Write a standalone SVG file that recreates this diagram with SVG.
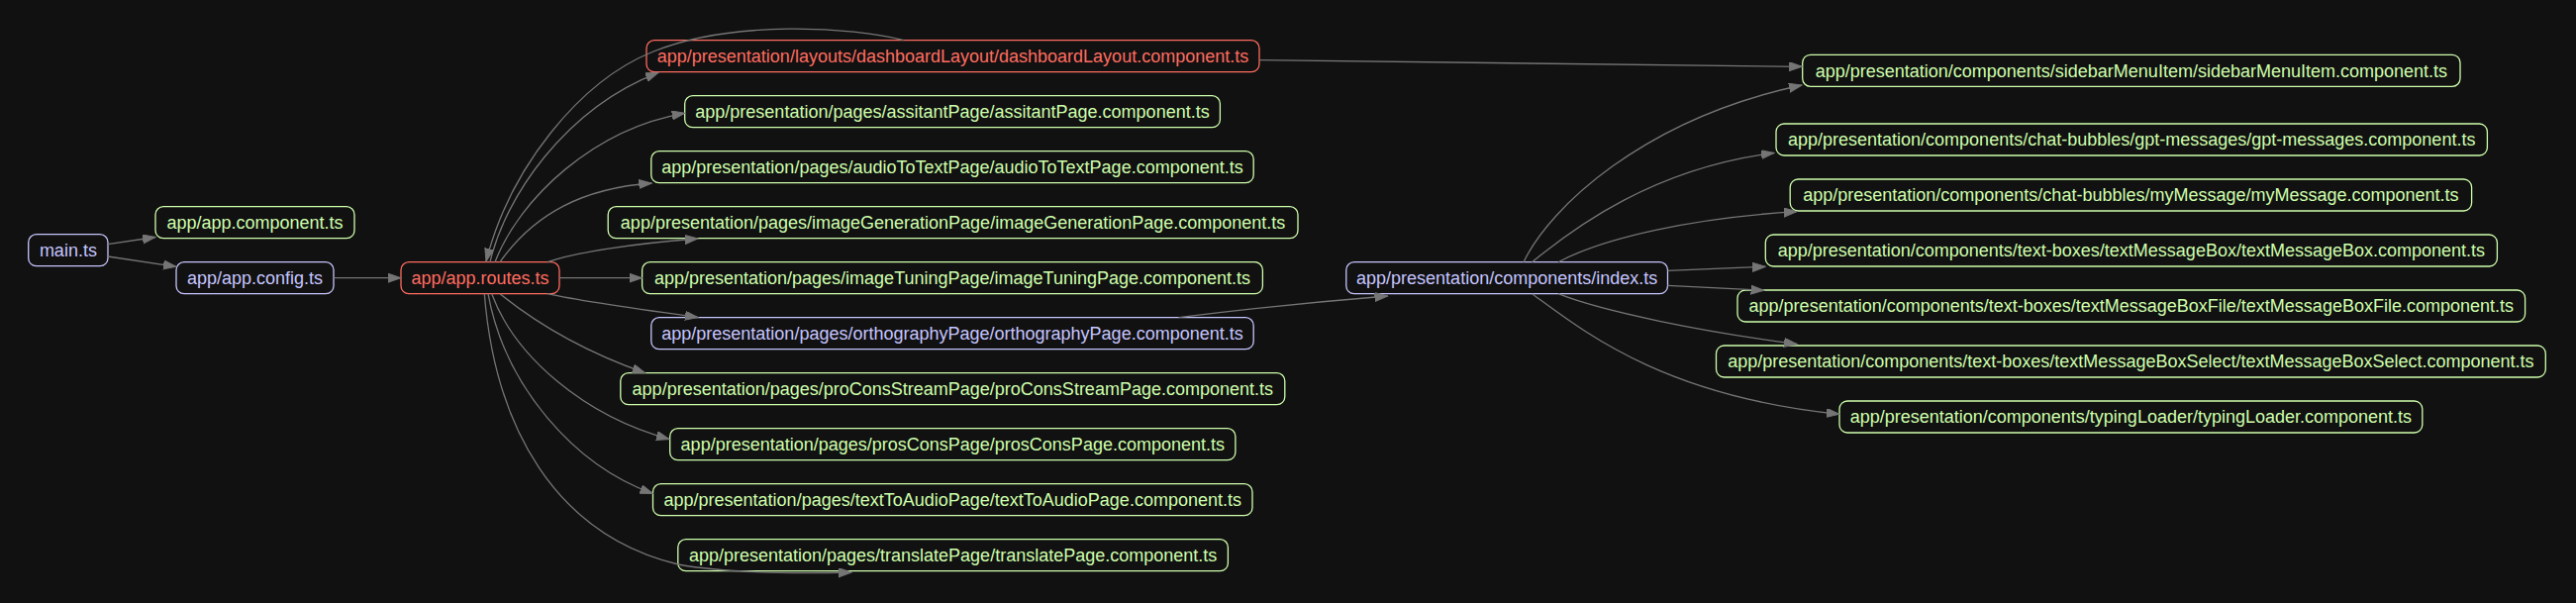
<svg xmlns="http://www.w3.org/2000/svg" width="2602" height="609" viewBox="0 0 2602 609">
<style>
.n rect{fill:none;stroke-width:1.3}
.n text{font-family:"Liberation Sans",Arial,sans-serif;font-size:18px;text-anchor:middle}
.lav rect{stroke:#c6c5fe}.lav text{fill:#c6c5fe}
.grn rect{stroke:#cfffac}.grn text{fill:#cfffac}
.red rect{stroke:#ff6c60}.red text{fill:#ff6c60}
#edges path{fill:none;stroke:#757575;stroke-width:1.3;marker-end:url(#ah)}
</style>
<defs>
<marker id="ah" markerUnits="userSpaceOnUse" markerWidth="14" markerHeight="10" refX="13" refY="4.5" orient="auto"><path d="M0,0 L13,4.5 L0,9 Z" fill="#757575" stroke="#757575" stroke-width="1"/></marker>
</defs>
<rect width="2602" height="609" fill="#111111"/>
<g id="n-main" class="n lav"><rect x="28.7" y="236.7" width="80.3" height="32" rx="8"/><text x="68.9" y="259">main.ts</text></g>
<g id="n-appcomp" class="n grn"><rect x="157" y="208.7" width="201" height="32" rx="8"/><text x="257.5" y="231">app/app.component.ts</text></g>
<g id="n-config" class="n lav"><rect x="178" y="264.7" width="159" height="32" rx="8"/><text x="257.5" y="287">app/app.config.ts</text></g>
<g id="n-routes" class="n red"><rect x="405" y="264.7" width="160" height="32" rx="8"/><text x="485" y="287">app/app.routes.ts</text></g>
<g id="n-dashboard" class="n red"><rect x="653" y="40.7" width="619" height="32" rx="8"/><text x="962.5" y="63">app/presentation/layouts/dashboardLayout/dashboardLayout.component.ts</text></g>
<g id="n-assitant" class="n grn"><rect x="691.7" y="96.7" width="540.7" height="32" rx="8"/><text x="962" y="119">app/presentation/pages/assitantPage/assitantPage.component.ts</text></g>
<g id="n-audio" class="n grn"><rect x="657.8" y="152.7" width="608.4" height="32" rx="8"/><text x="962" y="175">app/presentation/pages/audioToTextPage/audioToTextPage.component.ts</text></g>
<g id="n-imagegen" class="n grn"><rect x="614.2" y="208.7" width="696.8" height="32" rx="8"/><text x="962.6" y="231">app/presentation/pages/imageGenerationPage/imageGenerationPage.component.ts</text></g>
<g id="n-imagetuning" class="n grn"><rect x="648.6" y="264.7" width="626.8" height="32" rx="8"/><text x="962" y="287">app/presentation/pages/imageTuningPage/imageTuningPage.component.ts</text></g>
<g id="n-ortho" class="n lav"><rect x="657.8" y="320.7" width="608.4" height="32" rx="8"/><text x="962" y="343">app/presentation/pages/orthographyPage/orthographyPage.component.ts</text></g>
<g id="n-proconsstream" class="n grn"><rect x="626.8" y="376.7" width="671" height="32" rx="8"/><text x="962.3" y="399">app/presentation/pages/proConsStreamPage/proConsStreamPage.component.ts</text></g>
<g id="n-proscons" class="n grn"><rect x="676.7" y="432.7" width="571.2" height="32" rx="8"/><text x="962.3" y="455">app/presentation/pages/prosConsPage/prosConsPage.component.ts</text></g>
<g id="n-texttoaudio" class="n grn"><rect x="659.5" y="488.7" width="605.5" height="32" rx="8"/><text x="962.25" y="511">app/presentation/pages/textToAudioPage/textToAudioPage.component.ts</text></g>
<g id="n-translate" class="n grn"><rect x="684.8" y="544.7" width="555.6" height="32" rx="8"/><text x="962.6" y="567">app/presentation/pages/translatePage/translatePage.component.ts</text></g>
<g id="n-index" class="n lav"><rect x="1359.8" y="264.7" width="324.7" height="32" rx="8"/><text x="1522.15" y="287">app/presentation/components/index.ts</text></g>
<g id="n-sidebar" class="n grn"><rect x="1820.7" y="55.3" width="664.3" height="32" rx="8"/><text x="2152.85" y="77.6">app/presentation/components/sidebarMenuItem/sidebarMenuItem.component.ts</text></g>
<g id="n-gpt" class="n grn"><rect x="1794" y="125" width="718.4" height="32" rx="8"/><text x="2153.2" y="147.3">app/presentation/components/chat-bubbles/gpt-messages/gpt-messages.component.ts</text></g>
<g id="n-mymessage" class="n grn"><rect x="1808.2" y="181" width="688.4" height="32" rx="8"/><text x="2152.4" y="203.3">app/presentation/components/chat-bubbles/myMessage/myMessage.component.ts</text></g>
<g id="n-tmb" class="n grn"><rect x="1783.3" y="237" width="739.1" height="32" rx="8"/><text x="2152.85" y="259.3">app/presentation/components/text-boxes/textMessageBox/textMessageBox.component.ts</text></g>
<g id="n-tmbfile" class="n grn"><rect x="1755" y="293" width="795.6" height="32" rx="8"/><text x="2152.8" y="315.3">app/presentation/components/text-boxes/textMessageBoxFile/textMessageBoxFile.component.ts</text></g>
<g id="n-tmbselect" class="n grn"><rect x="1733.5" y="349" width="837.8" height="32" rx="8"/><text x="2152.4" y="371.3">app/presentation/components/text-boxes/textMessageBoxSelect/textMessageBoxSelect.component.ts</text></g>
<g id="n-typing" class="n grn"><rect x="1858" y="405" width="588.8" height="32" rx="8"/><text x="2152.4" y="427.3">app/presentation/components/typingLoader/typingLoader.component.ts</text></g>
<g id="edges">
<path d="M109,246.7 L157,239.5"/>
<path d="M109,259 L178,269.3"/>
<path d="M337,280.7 L405,280.7"/>
<path d="M495,264.7 C510,200 570,110 665,73.3"/>
<path d="M913,40.7 C860,27 740,20 660,52 C585,82 515,170 491,264"/>
<path d="M500,264.7 C525,200 600,130 691.7,114.3"/>
<path d="M505,264.7 C540,215 590,190 658.3,185"/>
<path d="M553,264.7 C580,255 640,246 705,241"/>
<path d="M565,280.7 L648.6,280.7"/>
<path d="M553,296.7 C590,305 650,313 705,320.5"/>
<path d="M505,296.7 C540,325 590,355 651.7,376.7"/>
<path d="M496.7,296.7 C520,360 590,420 676,443.5"/>
<path d="M493,296.7 C510,390 580,470 659.5,498.5"/>
<path d="M489.3,296.7 C500,430 560,540 685,570 C740,580 820,579 860,578"/>
<path d="M1272.2,60.7 L1820.2,67.3"/>
<path d="M1190.5,320.7 C1260,312 1340,304 1401.5,299"/>
<path d="M1539,264.7 C1565,210 1660,120 1820,86"/>
<path d="M1547.5,264.7 C1590,230 1670,170 1792,154.5"/>
<path d="M1574,264.7 C1620,240 1710,220 1815,213.7"/>
<path d="M1684.5,273.3 L1783.3,269.3"/>
<path d="M1684.5,288.3 L1781.6,293.3"/>
<path d="M1574,296.7 C1620,315 1720,335 1815,347.5"/>
<path d="M1547.5,296.7 C1600,335 1680,400 1858,418.3"/>
</g>
</svg>
